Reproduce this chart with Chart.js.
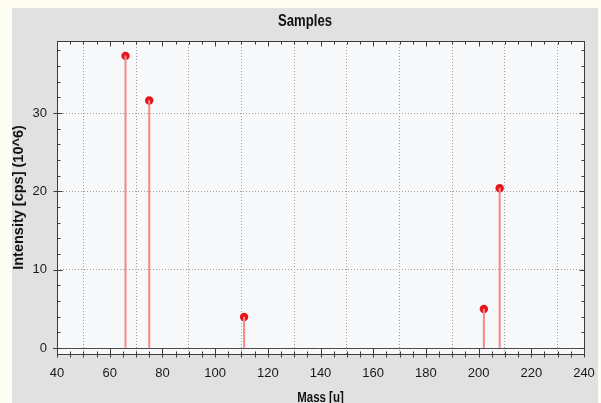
<!DOCTYPE html>
<html>
<head>
<meta charset="utf-8">
<script src="https://cdn.jsdelivr.net/npm/chart.js@4/dist/chart.umd.min.js"></script>
<style>
  body { margin: 0; background: #fdfdf4; width: 601px; height: 403px; overflow: hidden; }
  #panel { position: absolute; left: 12px; top: 8px; width: 586px; height: 395px; background: #e1e1e1; }
  canvas { display: block; }
</style>
</head>
<body>
<div id="panel"><canvas id="chart" width="586" height="395"></canvas></div>
<script>
// peaks: mass [u] -> intensity [cps] (10^6)
const masses = [66, 75, 111, 202, 208];
const intensities = [37.3, 31.6, 3.95, 4.97, 20.4];

const xTicks = [40, 60, 80, 100, 120, 140, 160, 180, 200, 220, 240];
const yTicks = [0, 10, 20, 30];
const xMinorStep = 5;
const yMinorStep = 2;

const FONT = '"Liberation Sans", Arial, sans-serif';

const points = masses.map((m, i) => ({ x: m, y: intensities[i] }));

// narrow bold text like the original app (Arial Narrow look)
function narrowText(ctx, text, cx, baseline, size) {
  ctx.save();
  ctx.translate(cx, baseline);
  ctx.scale(0.82, 1);
  ctx.fillStyle = '#111';
  ctx.font = 'bold ' + size + 'px ' + FONT;
  ctx.textAlign = 'center';
  ctx.textBaseline = 'alphabetic';
  ctx.fillText(text, 0, 0);
  ctx.restore();
}

// plot background, zero line, frame with inward ticks, titles
const framePlugin = {
  id: 'frame',
  beforeDraw(chart) {
    const { ctx, chartArea: a } = chart;
    ctx.save();
    ctx.fillStyle = '#f7f8fa';
    ctx.fillRect(a.left, a.top, a.right - a.left, a.bottom - a.top);
    ctx.restore();
    narrowText(ctx, 'Samples', chart.width / 2, 17.5, 16);
    narrowText(ctx, 'Mass [u]', (a.left + a.right) / 2, 394, 14);
  },
  beforeDatasetsDraw(chart) {
    const { ctx, chartArea: a, scales: { y } } = chart;
    const py = Math.round(y.getPixelForValue(0)) + 0.5;
    ctx.save();
    ctx.strokeStyle = '#4a4a4a';
    ctx.lineWidth = 1;
    ctx.beginPath();
    ctx.moveTo(a.left - 4, py);
    ctx.lineTo(a.right, py);
    ctx.stroke();
    ctx.restore();
  },
  afterDraw(chart) {
    const { ctx, chartArea: a, scales: { x, y } } = chart;
    const L = Math.round(a.left) + 0.5, R = Math.round(a.right) + 0.5;
    const T = Math.round(a.top) + 0.5, B = Math.round(a.bottom) + 0.5;
    ctx.save();
    ctx.strokeStyle = '#3c3c3c';
    ctx.lineWidth = 1;
    ctx.strokeRect(L, T, R - L, B - T);
    ctx.beginPath();
    for (let v = x.min; v <= x.max + 0.001; v += xMinorStep) {
      const major = xTicks.includes(v);
      const px = Math.round(x.getPixelForValue(v)) + 0.5;
      ctx.moveTo(px, B + 3);
      ctx.lineTo(px, B - (major ? 6 : 3));
      ctx.moveTo(px, T);
      ctx.lineTo(px, T + (major ? 5 : 3));
    }
    for (let v = 0; v <= y.max; v += yMinorStep) {
      const major = yTicks.includes(v);
      const py = Math.round(y.getPixelForValue(v)) + 0.5;
      ctx.moveTo(L - (major ? 4 : 0), py);
      ctx.lineTo(L + (major ? 5 : 3), py);
      ctx.moveTo(R, py);
      ctx.lineTo(R - (major ? 5 : 3), py);
    }
    ctx.stroke();
    ctx.restore();
  }
};

new Chart(document.getElementById('chart'), {
  type: 'scatter',
  data: {
    datasets: [
      {
        type: 'bar',
        label: 'stems',
        data: points,
        backgroundColor: '#f28b8b',
        borderWidth: 0,
        barThickness: 1.4,
      },
      {
        type: 'scatter',
        label: 'Samples',
        data: points,
        backgroundColor: '#e8141c',
        borderColor: '#e8141c',
        borderWidth: 0,
        pointRadius: 4.2,
        pointHoverRadius: 4.2,
      },
    ],
  },
  options: {
    responsive: false,
    animation: false,
    layout: { padding: { left: 0, right: 14, top: 33, bottom: 0 } },
    plugins: {
      legend: { display: false },
      title: { display: false },
      tooltip: { enabled: false },
    },
    scales: {
      x: {
        type: 'linear',
        min: 40, max: 240,
        offset: false,
        afterBuildTicks: s => { s.ticks = xTicks.map(v => ({ value: v })); },
        afterFit: s => { s.height = 49; s.paddingLeft = 0; s.paddingRight = 0; },
        grid: { color: '#a0a0a0', lineWidth: 1, drawTicks: false },
        border: { display: false, dash: [1, 2] },
        ticks: { color: '#1a1a1a', padding: 12, maxRotation: 0, font: { family: FONT, size: 13 } },
        title: { display: false },
      },
      y: {
        type: 'linear',
        min: -0.77, max: 39.2,
        afterBuildTicks: s => { s.ticks = yTicks.map(v => ({ value: v })); },
        afterFit: s => { s.width = 45; },
        grid: {
          color: ctx => ctx.tick && ctx.tick.value === 0 ? 'rgba(0,0,0,0)' : '#a0a0a0',
          lineWidth: 1, drawTicks: false,
        },
        border: { display: false, dash: [1, 2] },
        ticks: { color: '#1a1a1a', padding: 10, font: { family: FONT, size: 13 } },
        title: {
          display: true, text: 'Intensity [cps] (10^6)', color: '#111',
          font: { family: FONT, size: 14.5, weight: 'bold', lineHeight: 1 },
          padding: 0,
        },
      },
    },
  },
  plugins: [framePlugin],
});
</script>
</body>
</html>
